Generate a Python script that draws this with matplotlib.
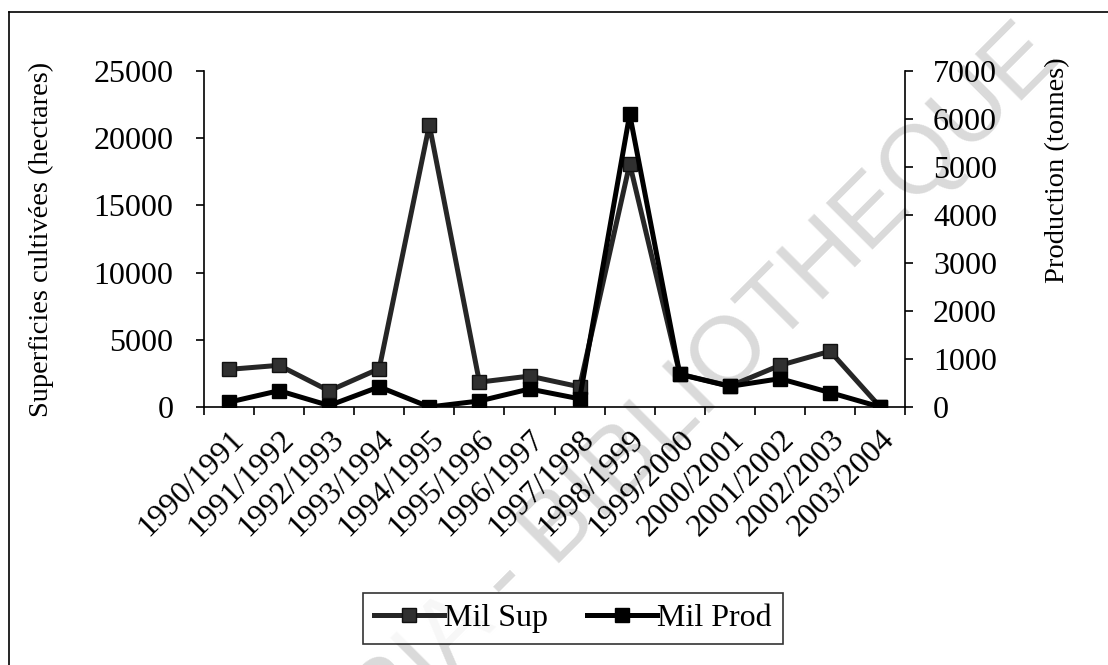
#!/usr/bin/env python3
"""Mil: superficies cultivées et production, 1990/1991 - 2003/2004."""
import matplotlib
matplotlib.use("Agg")
import matplotlib.pyplot as plt
from matplotlib.lines import Line2D
from matplotlib.ticker import MultipleLocator, FixedLocator, NullFormatter

plt.rcParams["font.family"] = ["Liberation Serif", "DejaVu Serif"]

seasons = [
    "1990/1991", "1991/1992", "1992/1993", "1993/1994", "1994/1995",
    "1995/1996", "1996/1997", "1997/1998", "1998/1999", "1999/2000",
    "2000/2001", "2001/2002", "2002/2003", "2003/2004",
]
# hectares (left axis)
mil_sup = [2800, 3100, 1200, 2850, 21000, 1850, 2300, 1500, 18100, 2450, 1550, 3100, 4150, 0]
# tonnes (right axis)
mil_prod = [100, 340, 30, 420, 0, 125, 375, 170, 6100, 680, 430, 590, 300, 0]

TICK_FS = 23
LABEL_FS = 20.5
x = list(range(len(seasons)))

fig = plt.figure(figsize=(11.08, 6.65), dpi=100)
ax = fig.add_axes([0.184, 0.388, 0.633, 0.505])
ax.patch.set_alpha(0)
ax2 = ax.twinx()

# watermark behind the plot
fig.text(0.525, 0.24, "CODESRIA - BIBLIOTHEQUE", fontsize=70, color="#dadada",
         family="Liberation Sans", rotation=45, ha="center", va="center",
         rotation_mode="anchor", zorder=-5)

l1, = ax.plot(x, mil_sup, color="#262626", lw=3.6, marker="s", ms=10,
              mfc="#303030", mec="#111111", label="Mil Sup", zorder=3)
l2, = ax2.plot(x, mil_prod, color="black", lw=3.6, marker="s", ms=10,
               mfc="black", mec="black", label="Mil Prod", zorder=3)

ax.set_xlim(-0.5, len(seasons) - 0.5)
ax.set_ylim(0, 25000)
ax2.set_ylim(0, 7000)
ax.yaxis.set_major_locator(MultipleLocator(5000))
ax2.yaxis.set_major_locator(MultipleLocator(1000))

# category labels at centres, tick marks between categories
ax.set_xticks(x)
ax.set_xticklabels(seasons, rotation=45, ha="right", va="top",
                   rotation_mode="anchor", fontsize=TICK_FS)
ax.xaxis.set_minor_locator(FixedLocator([i - 0.5 for i in range(len(seasons) + 1)]))
ax.xaxis.set_minor_formatter(NullFormatter())
ax.tick_params(axis="x", which="major", length=0, pad=13)
ax.tick_params(axis="x", which="minor", length=6, width=1.2, direction="out")
ax.tick_params(axis="y", length=6, width=1.2, direction="out", labelsize=TICK_FS, pad=16)
ax2.tick_params(axis="y", length=6, width=1.2, direction="out", labelsize=TICK_FS, pad=14)

for a in (ax, ax2):
    a.spines["top"].set_visible(False)
    for s in a.spines.values():
        s.set_linewidth(1.2)
ax.spines["right"].set_visible(False)
ax2.spines["left"].set_visible(False)
ax2.spines["bottom"].set_visible(False)

ax.set_ylabel("Superficies cultivées (hectares)", fontsize=LABEL_FS)
ax2.set_ylabel("Production (tonnes)", fontsize=LABEL_FS)
ax.yaxis.set_label_coords(-0.213, 0.5)
ax2.yaxis.set_label_coords(1.2, 0.705)

leg = fig.legend(handles=[l1, l2], loc="center", bbox_to_anchor=(0.517, 0.07),
                 ncol=2, fontsize=TICK_FS, frameon=True, fancybox=False,
                 edgecolor="black", handlelength=2.2, handletextpad=0.0,
                 columnspacing=1.2, borderpad=0.35, borderaxespad=0)
leg.get_frame().set_linewidth(1.2)

# outer chart frame (only left and top edges are in view)
fig.add_artist(Line2D([9 / 1108, 9 / 1108], [0, 1 - 12 / 665], color="black", lw=1.2))
fig.add_artist(Line2D([9 / 1108, 1], [1 - 12 / 665, 1 - 12 / 665], color="black", lw=1.2))

fig.savefig("out.png", dpi=100)
